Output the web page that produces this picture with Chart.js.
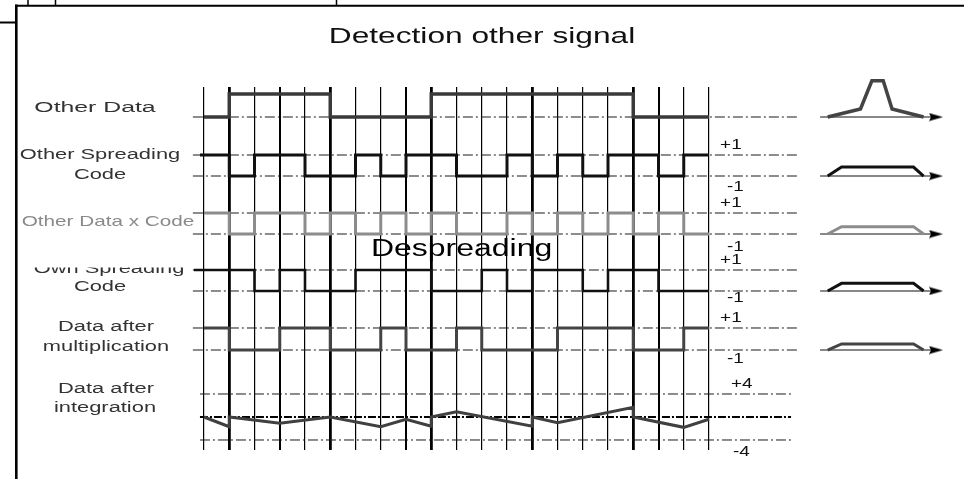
<!DOCTYPE html>
<html>
<head>
<meta charset="utf-8">
<script src="https://cdn.jsdelivr.net/npm/chart.js@4.4.1/dist/chart.umd.min.js"></script>
<style>
html,body{margin:0;padding:0;background:#ffffff;}
canvas{display:block;}
</style>
</head>
<body>
<canvas id="chart" width="964" height="479"></canvas>
<script>
// ---------------- data ----------------
const chartTitle = 'Detection other signal';
const annotationText = 'Despreading';
const rowNames = [
  ['Other Data'],
  ['Other Spreading', 'Code'],
  ['Other Data x Code'],
  ['Own Spreading', 'Code'],
  ['Data after', 'multiplication'],
  ['Data after', 'integration']
];
const chipTicks = [0,1,2,3,4,5,6,7,8,9,10,11,12,13,14,15,16,17,18,19,20];
const bitBoundaries = [1,5,9,13,17];
const otherData      = [-1,1,1,1,1,-1,-1,-1,-1,1,1,1,1,1,1,1,1,-1,-1,-1];
const otherCode      = [1,-1,1,1,-1,-1,1,-1,1,1,-1,-1,1,-1,1,-1,1,1,-1,1];
const otherDataXCode = [1,-1,1,1,-1,1,-1,1,-1,1,-1,-1,1,-1,1,-1,1,-1,1,-1];
const ownCode        = [1,1,-1,1,-1,-1,1,1,1,-1,-1,1,-1,1,1,-1,1,1,-1,-1];
const afterMult      = [1,-1,-1,1,1,-1,-1,1,-1,-1,1,-1,-1,-1,1,1,1,-1,-1,1];
const integTime  = [0,1,1,3,5,7,8,9,9,10,13,13,14,17,17,19,20];
const integValue = [0,-1.7,0,-1.1,0,-1.7,-0.4,-1.6,0,0.9,-1.6,0,-1.0,1.7,0,-1.8,-0.4];
const levelTickLabels = ['+1', '-1'];
const integTickLabels = ['+4', '-4'];
const codeLevels = [1, -1];
const integLevels = [4, 0, -4];
const spectrumPeakX = [24.7, 26.0, 26.45, 26.9, 27.25, 28.5];
const spectrumPeakY = [-1, -0.3, 2.15, 2.15, -0.3, -1];
const spectrumFlatX = [24.7, 25.25, 28.1, 28.5];
const spectrumFlatTop = [-0.15, -0.3, -0.27, -0.45];

// ---------------- layout / style ----------------
const FONT = '"Liberation Sans", Arial, Helvetica, sans-serif';
const Y = ['y1','y2','y3','y4','y5','y6'];
const rowRanges = [[-2.652,1.609],[-2.714,2.81],[-2.714,2.81],[-2.81,2.714],[-2.636,2.636],[-5.74,8.52]];
const rowWeights = [49,58,58,58,58,82];
const waveforms = [otherData, otherCode, otherDataXCode, ownCode, afterMult];
const waveStyle = [
  {color:'#3a3a3a', width:3.5, lead:0},
  {color:'#111111', width:3,   lead:0.16},
  {color:'#8c8c8c', width:3,   lead:0},
  {color:'#111111', width:2.6, lead:0.4},
  {color:'#444444', width:3,   lead:0}
];
const iconColors = ['#444444','#111111','#8c8c8c','#111111','#444444'];
const refSpan = [-0.44, 23.6];
const integSpan = [-0.16, 23.25];
const baseSpan = [24.4, 28.95];

// arrow head image used as point style
const arrow = document.createElement('canvas');
arrow.width = 16; arrow.height = 9;
(function(){
  const a = arrow.getContext('2d');
  a.fillStyle = '#000';
  a.beginPath(); a.moveTo(2,0.5); a.lineTo(16,4.5); a.lineTo(2,8.5); a.lineTo(4,4.5); a.closePath(); a.fill();
})();

function stepData(values, lead) {
  const pts = values.map((v, i) => ({x: i, y: v}));
  if (lead) pts.unshift({x: -lead, y: values[0]});
  pts.push({x: values.length, y: values[values.length - 1]});
  return pts;
}

const datasets = [];
waveforms.forEach((w, k) => {
  datasets.push({
    data: stepData(w, waveStyle[k].lead), yAxisID: Y[k], stepped: 'before',
    borderColor: waveStyle[k].color, borderWidth: waveStyle[k].width,
    borderJoinStyle: 'miter', borderCapStyle: 'butt', pointRadius: 0, fill: false
  });
});
datasets.push({
  data: integTime.map((t, i) => ({x: t, y: integValue[i]})), yAxisID: 'y6',
  borderColor: '#404040', borderWidth: 3, borderJoinStyle: 'miter', pointRadius: 0, tension: 0, fill: false
});
datasets.push({
  data: spectrumPeakX.map((x, i) => ({x, y: spectrumPeakY[i]})), yAxisID: 'y1', clip: false,
  borderColor: iconColors[0], borderWidth: 3.5, borderJoinStyle: 'miter', pointRadius: 0
});
spectrumFlatTop.forEach((top, k) => {
  const ys = [-1, top, top, -1];
  datasets.push({
    data: spectrumFlatX.map((x, i) => ({x, y: ys[i]})), yAxisID: Y[k + 1],
    borderColor: iconColors[k + 1], borderWidth: 3, borderJoinStyle: 'miter', pointRadius: 0
  });
});
for (let k = 0; k < 5; k++) {
  datasets.push({
    data: [{x: baseSpan[0], y: -1}, {x: baseSpan[1], y: -1}], yAxisID: Y[k],
    borderColor: '#111', borderWidth: 1.2, pointStyle: arrow,
    pointRadius: c => c.dataIndex === 1 ? 5 : 0, pointHoverRadius: 0
  });
}
[[-1]].concat([codeLevels, codeLevels, codeLevels, codeLevels]).forEach((lv, k) => {
  lv.forEach(v => datasets.push({
    data: [{x: refSpan[0], y: v}, {x: refSpan[1], y: v}], yAxisID: Y[k],
    borderColor: '#1a1a1a', borderWidth: 1, borderDash: [10,3,2,3], pointRadius: 0
  }));
});
integLevels.forEach(v => datasets.push({
  data: [{x: integSpan[0], y: v}, {x: integSpan[1], y: v}], yAxisID: 'y6',
  borderColor: v === 0 ? '#000' : '#1a1a1a', borderWidth: v === 0 ? 2 : 1,
  borderDash: v === 0 ? [8,2,2,2] : [10,3,2,3], pointRadius: 0
}));

// ---------------- scales ----------------
const scales = {
  x: {
    type: 'linear', min: -0.5, max: 29.5, position: 'bottom',
    afterBuildTicks: s => { s.ticks = chipTicks.map(v => ({value: v})); },
    ticks: {display: false},
    border: {display: false},
    grid: {
      drawTicks: false, tickLength: 0, color: '#000',
      lineWidth: c => {
        const v = c.tick ? c.tick.value : -1;
        if (bitBoundaries.includes(v)) return 2.8;
        if (v === 3 || v === 8 || v === 18) return 2;
        return 1.2;
      }
    }
  }
};
Y.forEach((id, k) => {
  scales[id] = {
    type: 'linear', position: 'left', stack: 'rows', stackWeight: rowWeights[k], weight: 6 - k,
    min: rowRanges[k][0], max: rowRanges[k][1],
    ticks: {display: false},
    grid: {display: false, drawTicks: false, tickLength: 0},
    border: {display: false}
  };
});

// ---------------- text / frame plugin ----------------
function txt(ctx, s, x, y, size, sx, color, align, clipTop) {
  ctx.save();
  if (clipTop !== undefined) { ctx.beginPath(); ctx.rect(0, clipTop, 964, 479); ctx.clip(); }
  ctx.font = size + 'px ' + FONT;
  ctx.fillStyle = color;
  ctx.textBaseline = 'middle';
  ctx.textAlign = align || 'center';
  ctx.translate(x, y);
  ctx.scale(sx, 1);
  ctx.fillText(s, 0, 0);
  ctx.restore();
}
const labelLayout = [
  {cx: [95], at: [-0.2], sx: 1.6, size: 15.5},
  {cx: [100, 100], at: [1.0, -0.9], sx: 1.41, size: 15.5},
  {cx: [108], at: [0.17], sx: 1.38, size: 15},
  {cx: [109, 100], at: [1.14, -0.62], sx: 1.41, size: 15.5, cut: 1},
  {cx: [106, 106], at: [1.09, -0.73], sx: 1.41, size: 15.5},
  {cx: [106, 105], at: [4.87, 1.57], sx: 1.41, size: 15.5}
];
const minusGap = [11, 13, 7, 9];

const decor = {
  id: 'decor',
  beforeDraw(chart) {
    const c = chart.ctx;
    c.save();
    c.fillStyle = '#fff'; c.fillRect(0, 0, 964, 479);
    c.strokeStyle = '#000';
    c.lineWidth = 2.6;
    c.beginPath(); c.moveTo(16.3, 4.6); c.lineTo(16.3, 479); c.stroke();
    c.lineWidth = 2;
    c.beginPath(); c.moveTo(15, 5.8); c.lineTo(964, 5.8); c.stroke();
    c.beginPath(); c.moveTo(0, 22.5); c.lineTo(16, 22.5); c.stroke();
    c.lineWidth = 1.5;
    [28, 55.5, 336.5].forEach(x => { c.beginPath(); c.moveTo(x, 0); c.lineTo(x, 6); c.stroke(); });
    c.restore();
  },
  afterDatasetsDraw(chart) {
    const c = chart.ctx, xs = chart.scales.x;
    txt(c, chartTitle, 482, 36.5, 22, 1.44, '#111');
    rowNames.forEach((lines, k) => {
      const s = chart.scales[Y[k]], L = labelLayout[k];
      lines.forEach((t, j) => {
        const y = s.getPixelForValue(L.at[j]);
        const col = k === 2 ? '#8a8a8a' : '#333';
        txt(c, t, L.cx[j], y, L.size, L.sx, col, 'center', (L.cut && j === 0) ? y - L.cut : undefined);
      });
    });
    for (let k = 1; k <= 4; k++) {
      const s = chart.scales[Y[k]];
      txt(c, levelTickLabels[0], xs.getPixelForValue(20.44), s.getPixelForValue(codeLevels[0]) - 10, 14, 1.35, '#111', 'left');
      txt(c, levelTickLabels[1], xs.getPixelForValue(20.71), s.getPixelForValue(codeLevels[1]) + minusGap[k - 1], 14, 1.35, '#111', 'left');
    }
    const s6 = chart.scales.y6;
    txt(c, integTickLabels[0], xs.getPixelForValue(20.87), s6.getPixelForValue(integLevels[0]) - 10, 14, 1.35, '#111', 'left');
    txt(c, integTickLabels[1], xs.getPixelForValue(20.95), s6.getPixelForValue(integLevels[2]) + 12, 14, 1.35, '#111', 'left');
    txt(c, annotationText, xs.getPixelForValue(10.2), chart.scales.y3.getPixelForValue(-2.52), 23, 1.39, '#000');
  }
};

new Chart(document.getElementById('chart'), {
  type: 'line',
  data: {datasets},
  options: {
    responsive: false, animation: false, devicePixelRatio: 1,
    layout: {padding: {left: 191.375, right: 15.125, top: 87, bottom: 29}},
    plugins: {legend: {display: false}, tooltip: {enabled: false}, title: {display: false}},
    elements: {point: {radius: 0, hoverRadius: 0}, line: {tension: 0}},
    events: [],
    scales
  },
  plugins: [decor]
});
</script>
</body>
</html>
